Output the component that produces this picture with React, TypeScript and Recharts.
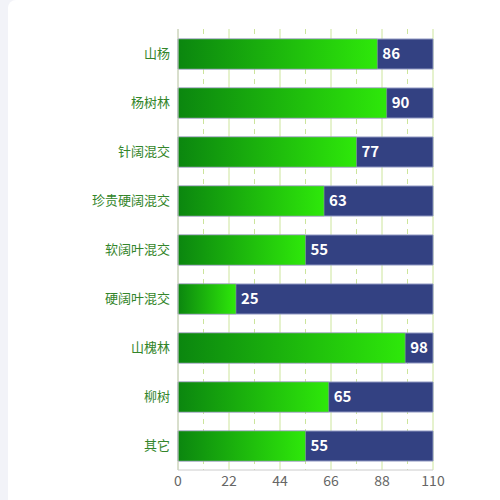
import React from 'react';
import { BarChart, Bar, XAxis, YAxis, CartesianGrid, LabelList } from 'recharts';

const categories = ['山杨', '杨树林', '针阔混交', '珍贵硬阔混交', '软阔叶混交', '硬阔叶混交', '山槐林', '柳树', '其它'];
const values = [86, 90, 77, 63, 55, 25, 98, 65, 55];
const xTicks = [0, 22, 44, 66, 88, 110];
const minorTicks = [11, 33, 55, 77, 99];

const data = categories.map((name, i) => ({ name, value: values[i] }));

const FONT = '"Noto Sans CJK SC", "Noto Sans", sans-serif';
const GRID = '#cce59c';

// dashed minor lines between the major ticks, placed through the axis scale
const minorLines = (props: any) => {
    const { xAxis, offset } = props;
    if (xAxis && typeof xAxis.scale === 'function') {
        return minorTicks.map((t) => xAxis.scale(t));
    }
    return minorTicks.map((t) => offset.left + (t / 110) * offset.width);
};

const App: React.FC = () => {
    return (
        <div style={{ position: 'fixed', left: 0, top: 0, width: 500, height: 500, background: '#f2f3f8', fontFamily: FONT }}>
            <div style={{ position: 'absolute', left: 8, top: 0, width: 520, height: 520, background: '#fff', borderRadius: 8 }} />
            <div style={{ position: 'absolute', left: 0, top: 0 }}>
                <BarChart
                    width={500}
                    height={500}
                    data={data}
                    layout="vertical"
                    margin={{ top: 29, right: 67, left: 0, bottom: 0 }}
                >
                    <defs>
                        <linearGradient id="greenGrad" x1="0" y1="0" x2="1" y2="0">
                            <stop offset="0%" stopColor="#0b860f" />
                            <stop offset="100%" stopColor="#2ee80a" />
                        </linearGradient>
                    </defs>
                    <CartesianGrid horizontal={false} vertical stroke={GRID} />
                    <CartesianGrid
                        horizontal={false}
                        vertical
                        stroke={GRID}
                        strokeDasharray="5 5"
                        verticalCoordinatesGenerator={minorLines}
                    />
                    <XAxis
                        type="number"
                        domain={[0, 110]}
                        ticks={xTicks}
                        tickLine={false}
                        axisLine={{ stroke: '#ccc' }}
                        tick={{ fill: '#666', fontSize: 14, fontFamily: FONT }}
                        tickMargin={0}
                        height={30}
                    />
                    <YAxis
                        type="category"
                        dataKey="name"
                        width={178}
                        tickLine={false}
                        axisLine={{ stroke: '#ccc' }}
                        tick={{ fill: '#33852a', fontSize: 13, fontFamily: FONT }}
                    />
                    <Bar
                        dataKey="value"
                        barSize={30}
                        fill="url(#greenGrad)"
                        stroke="rgba(150,160,170,0.55)"
                        strokeWidth={1}
                        background={{ fill: '#334182', stroke: '#8e96c0', strokeWidth: 1 }}
                        isAnimationActive={false}
                    >
                        <LabelList
                            dataKey="value"
                            position="right"
                            offset={5}
                            fill="#fff"
                            fontSize={15}
                            fontWeight="bold"
                            fontFamily={FONT}
                        />
                    </Bar>
                </BarChart>
            </div>
        </div>
    );
};

export default App;
